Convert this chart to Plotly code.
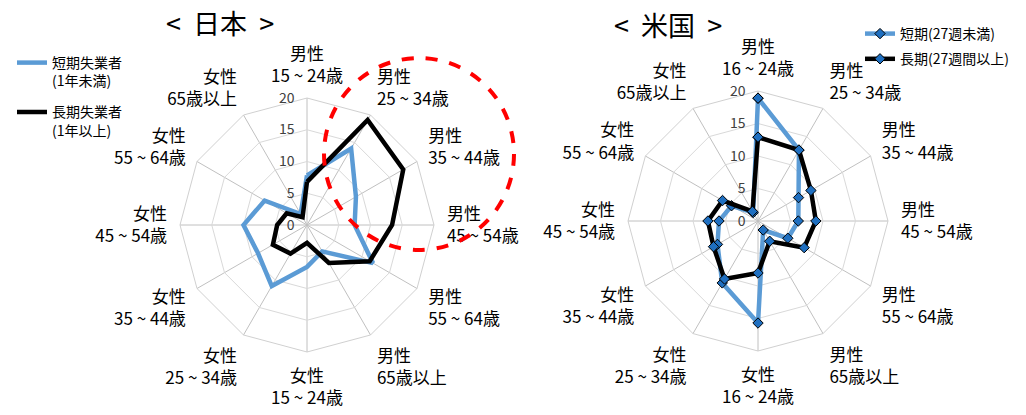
import plotly.graph_objects as go

# ---- data ----
jp_categories = ["男性<br>15 ~ 24歳", "男性<br>25 ~ 34歳", "男性<br>35 ~ 44歳", "男性<br>45 ~ 54歳",
                 "男性<br>55 ~ 64歳", "男性<br>65歳以上", "女性<br>15 ~ 24歳", "女性<br>25 ~ 34歳",
                 "女性<br>35 ~ 44歳", "女性<br>45 ~ 54歳", "女性<br>55 ~ 64歳", "女性<br>65歳以上"]
jp_short = [7.8, 13.9, 8.9, 7.5, 12.0, 4.8, 6.6, 11.1, 8.9, 10.0, 7.7, 2.0]
jp_long = [6.8, 19.1, 17.5, 13.4, 11.4, 6.9, 2.8, 5.2, 6.2, 4.7, 3.7, 1.4]

us_categories = ["男性<br>16 ~ 24歳", "男性<br>25 ~ 34歳", "男性<br>35 ~ 44歳", "男性<br>45 ~ 54歳",
                 "男性<br>55 ~ 64歳", "男性<br>65歳以上", "女性<br>16 ~ 24歳", "女性<br>25 ~ 34歳",
                 "女性<br>35 ~ 44歳", "女性<br>45 ~ 54歳", "女性<br>55 ~ 64歳", "女性<br>65歳以上"]
us_short = [18.9, 12.6, 7.2, 6.2, 5.3, 1.6, 15.7, 11.0, 7.2, 6.0, 4.7, 1.5]
us_long = [12.9, 12.6, 9.4, 8.9, 8.2, 3.6, 8.0, 10.3, 7.9, 7.7, 6.3, 1.7]

radial_ticks = [0, 5, 10, 15, 20]

jp_names = ["短期失業者<br>(1年未満)", "長期失業者<br>(1年以上)"]
us_names = ["短期(27週未満)", "長期(27週間以上)"]

BLUE = "#5b9bd5"
BLACK = "#000000"
FONT = "Noto Sans CJK JP"

# page has an 8px body margin; figure sized to fit the 1026x415 window
OFF = 8
W, H = 1026 - 2 * OFF, 415 - 2 * OFF


def px_x(x):
    return (x - OFF) / W


def px_y(y):
    return 1 - (y - OFF) / H


def closed(v):
    return list(v) + [v[0]]


fig = go.Figure()

fig.add_trace(go.Scatterpolar(r=closed(jp_short), theta=closed(jp_categories), mode="lines",
                              line=dict(color=BLUE, width=4.5), name=jp_names[0],
                              subplot="polar", legend="legend", legendgroup="a"))
fig.add_trace(go.Scatterpolar(r=closed(jp_long), theta=closed(jp_categories), mode="lines",
                              line=dict(color=BLACK, width=4.5), name=jp_names[1],
                              subplot="polar", legend="legend", legendgroup="b"))

mk = dict(symbol="diamond", size=8, color="#1f6fc0", line=dict(color="#000000", width=1))
fig.add_trace(go.Scatterpolar(r=closed(us_short), theta=closed(us_categories), mode="lines+markers",
                              line=dict(color=BLUE, width=4.5), marker=mk, name=us_names[0],
                              subplot="polar2", legend="legend2", legendgroup="c"))
fig.add_trace(go.Scatterpolar(r=closed(us_long), theta=closed(us_categories), mode="lines+markers",
                              line=dict(color=BLACK, width=4.5), marker=mk, name=us_names[1],
                              subplot="polar2", legend="legend2", legendgroup="d"))


def polar_cfg(cx, cy, rad):
    return dict(
        domain=dict(x=[px_x(cx - rad), px_x(cx + rad)], y=[px_y(cy + rad), px_y(cy - rad)]),
        bgcolor="rgba(0,0,0,0)",
        gridshape="linear",
        radialaxis=dict(range=[0, 20], tickvals=radial_ticks, angle=90, tickangle=90,
                        showline=False, ticks="outside", ticklen=7, tickcolor="rgba(0,0,0,0)",
                        gridcolor="#d9d9d9", gridwidth=1,
                        tickfont=dict(size=14, color="#404040", family=FONT),
                        side="counterclockwise"),
        angularaxis=dict(direction="clockwise", rotation=90, type="category",
                         showline=True, linecolor="#d0d0d0", linewidth=1,
                         gridcolor="#c0c0c0", gridwidth=1,
                         ticks="outside", ticklen=9, tickcolor="rgba(0,0,0,0)",
                         tickfont=dict(size=17, color="#000000", family=FONT)),
    )


fig.update_layout(
    width=W, height=H,
    margin=dict(l=0, r=0, t=0, b=0),
    paper_bgcolor="white", plot_bgcolor="white",
    font=dict(family=FONT),
    polar=polar_cfg(307, 225, 127),
    polar2=polar_cfg(758, 221, 130),
    showlegend=True,
    legend=dict(x=px_x(12), y=px_y(47), xanchor="left", yanchor="top",
                font=dict(size=14, color="#000000", family=FONT), valign="top",
                bgcolor="rgba(0,0,0,0)", tracegroupgap=10, itemwidth=30),
    legend2=dict(x=px_x(860), y=px_y(18), xanchor="left", yanchor="top",
                 font=dict(size=14, color="#000000", family=FONT),
                 bgcolor="rgba(0,0,0,0)", tracegroupgap=4, itemwidth=30),
)

fig.add_annotation(text="<  日本  >", x=px_x(220), y=px_y(22), xref="paper", yref="paper",
                   xanchor="center", yanchor="middle",
                   showarrow=False, font=dict(size=27, color="#000000", family=FONT))
fig.add_annotation(text="<  米国  >", x=px_x(668), y=px_y(24), xref="paper", yref="paper",
                   xanchor="center", yanchor="middle",
                   showarrow=False, font=dict(size=27, color="#000000", family=FONT))

fig.add_shape(type="circle", xref="paper", yref="paper",
              x0=px_x(324), x1=px_x(514), y0=px_y(250), y1=px_y(58),
              line=dict(color="#ff0000", width=4, dash="dash"))

fig.write_html("out.html")
